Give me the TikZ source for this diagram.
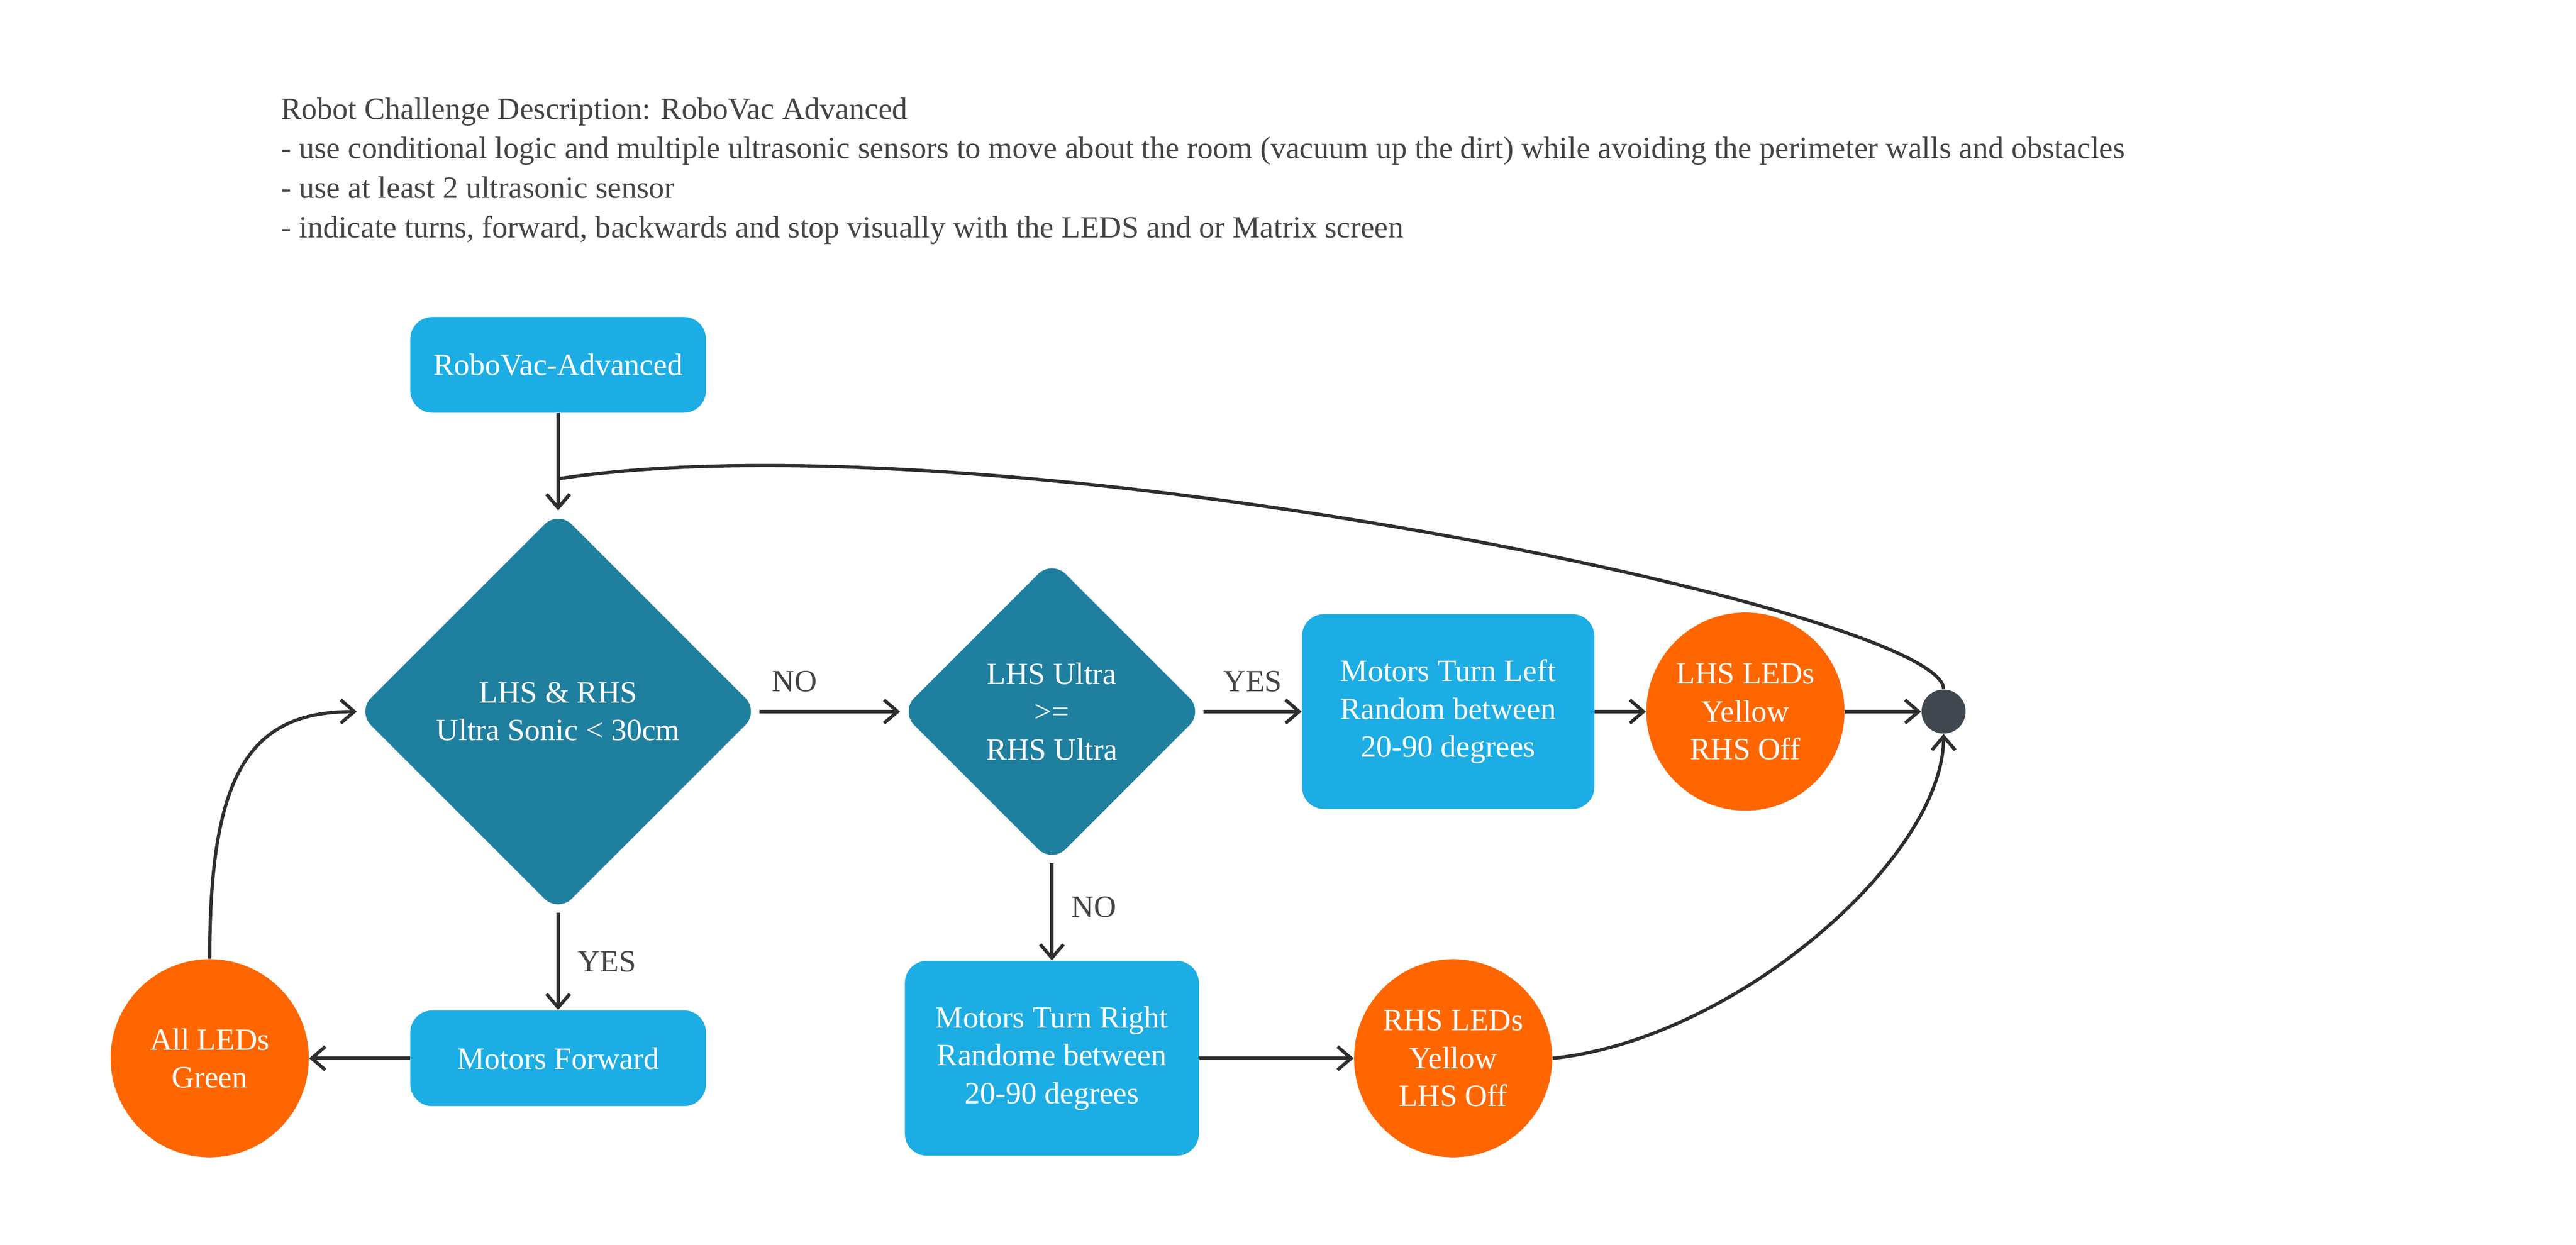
\documentclass[tikz,border=0pt]{standalone}
\usepackage{fontspec}
\setmainfont{Liberation Serif}
\usetikzlibrary{shapes.geometric,arrows.meta}
\definecolor{lb}{HTML}{1CADE4}
\definecolor{dt}{HTML}{1F7F9F}
\definecolor{og}{HTML}{FF6600}
\definecolor{dk}{HTML}{41474F}
\definecolor{tx}{HTML}{454545}
\definecolor{ln}{HTML}{2E2E2E}
\begin{document}
\begin{tikzpicture}[x=0.03cm,y=-0.03cm,
  font=\fontsize{16pt}{19.5pt}\selectfont,
  box/.style={fill=lb,rounded corners=0.4cm,text=white,align=center,inner sep=0pt},
  circ/.style={circle,fill=og,text=white,align=center,minimum size=3.6cm,inner sep=0pt},
  dia/.style={diamond,fill=dt,rounded corners=0.35cm,inner sep=0pt,aspect=1},
  conn/.style={draw=ln,line width=1.7pt,-{Straight Barb[length=7pt,width=12pt,line width=1.7pt]}},
  lab/.style={text=tx}]
\useasboundingbox (0,0) rectangle (1560,754);
\node[anchor=north west,align=left,text=tx,font=\fontsize{16pt}{20.4pt}\selectfont] (title) at (166,55)
 {Robot Challenge Description: RoboVac Advanced\\
 - use conditional logic and multiple ultrasonic sensors to move about the room (vacuum up the dirt) while avoiding the perimeter walls and obstacles\\
 - use at least 2 ultrasonic sensor\\
 - indicate turns, forward, backwards and stop visually with the LEDS and or Matrix screen};
\node[box,minimum width=5.37cm,minimum height=1.74cm] (start) at (338,221) {RoboVac-Advanced};
\node[dia,minimum width=7.3cm,minimum height=7.3cm] (d1) at (338,431) {};
\node[text=white,align=center] (d1t) at (338,431) {LHS \& RHS\\Ultra Sonic < 30cm};
\node[dia,minimum width=5.5cm,minimum height=5.5cm] (d2) at (637,431) {};
\node[text=white,align=center] (d2t) at (637,431) {LHS Ultra\\>=\\RHS Ultra};
\node[box,minimum width=5.31cm,minimum height=3.54cm] (tl) at (877,431) {Motors Turn Left\\Random between\\20-90 degrees};
\node[circ] (lled) at (1057,431) {LHS LEDs\\Yellow\\RHS Off};
\node[circle,fill=dk,minimum size=0.8cm,inner sep=0pt] (dot) at (1177,431) {};
\node[box,minimum width=5.37cm,minimum height=1.74cm] (fw) at (338,641) {Motors Forward};
\node[circ] (gled) at (127,641) {All LEDs\\Green};
\node[box,minimum width=5.34cm,minimum height=3.54cm] (tr) at (637,641) {Motors Turn Right\\Randome between\\20-90 degrees};
\node[circ] (rled) at (880,641) {RHS LEDs\\Yellow\\LHS Off};
\draw[conn] (start) -- (d1.north);
\draw[conn] (d1.east) -- node[lab,pos=0.25,above=6pt] {NO} (d2.west);
\draw[conn] (d2.east) -- node[lab,pos=0.5,above=6pt] {YES} (tl.west);
\draw[conn] (tl) -- (lled);
\draw[conn] (lled) -- (dot);
\draw[conn] (d2.south) -- node[lab,right=6pt,pos=0.45] {NO} (tr.north);
\draw[conn] (d1.south) -- node[lab,right=6pt,pos=0.5] {YES} (fw.north);
\draw[conn] (fw) -- (gled);
\draw[conn] (tr) -- (rled);
\draw[conn] (gled.north) .. controls (127,470) and (150,431) .. (d1.west);
\draw[conn] (rled.east) .. controls (1050,630) and (1177,520) .. (dot.south);
\draw[conn] (dot.north) .. controls (1177,370) and (600,250) .. (338,290) -- (d1.north);
\end{tikzpicture}
\end{document}
